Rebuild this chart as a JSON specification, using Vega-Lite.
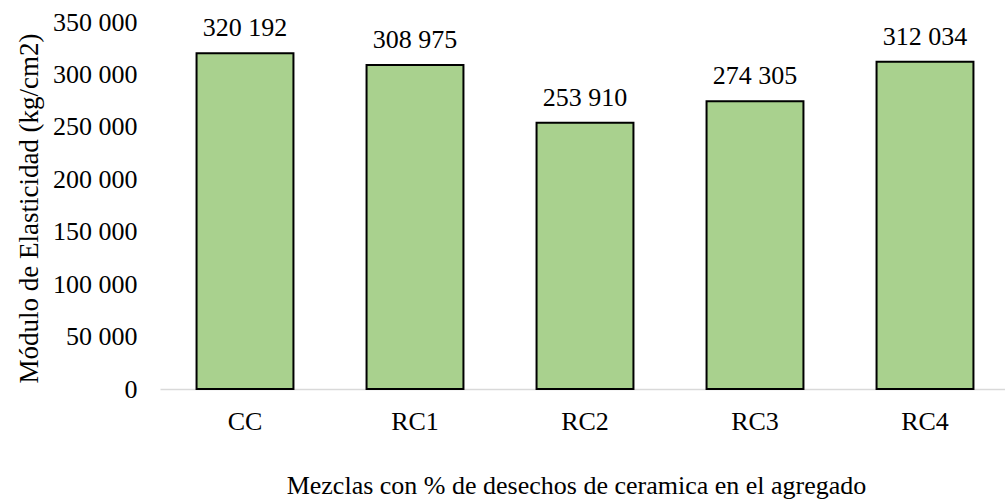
{
  "$schema": "https://vega.github.io/schema/vega-lite/v6.json",
  "autosize": {"type": "none"},
  "padding": {"left": 160, "top": 22, "right": 0, "bottom": 112},
  "width": 845,
  "height": 367,
  "background": "white",
  "config": {
    "view": {"stroke": null},
    "font": "Liberation Serif",
    "locale": {"number": {"decimal": ",", "thousands": " ", "grouping": [3], "currency": ["", ""]}}
  },
  "data": {
    "values": [
      {"mezcla": "CC", "modulo": 320192},
      {"mezcla": "RC1", "modulo": 308975},
      {"mezcla": "RC2", "modulo": 253910},
      {"mezcla": "RC3", "modulo": 274305},
      {"mezcla": "RC4", "modulo": 312034}
    ]
  },
  "encoding": {
    "x": {
      "field": "mezcla",
      "type": "nominal",
      "sort": null,
      "scale": {"range": [0, 850], "paddingInner": 0.43, "paddingOuter": 0.215},
      "axis": {
        "title": "Mezclas con % de desechos de ceramica en el agregado",
        "titleFont": "Liberation Serif",
        "titleFontSize": 26,
        "titleFontWeight": "normal",
        "titleColor": "#000000",
        "titleX": 416,
        "titleY": 104,
        "titleAlign": "center",
        "titleBaseline": "alphabetic",
        "labelAngle": 0,
        "labelFont": "Liberation Serif",
        "labelFontSize": 26,
        "labelColor": "#000000",
        "labelBaseline": "alphabetic",
        "labelPadding": 40,
        "ticks": false,
        "tickSize": 0,
        "domainColor": "#d9d9d9",
        "domainWidth": 1.5,
        "grid": false
      }
    },
    "y": {
      "field": "modulo",
      "type": "quantitative",
      "scale": {"domain": [0, 350000]},
      "axis": {
        "title": "Módulo de Elasticidad (kg/cm2)",
        "titleFont": "Liberation Serif",
        "titleFontSize": 27,
        "titleFontWeight": "normal",
        "titleColor": "#000000",
        "titleX": -131,
        "titleY": 186,
        "titleAngle": -90,
        "titleAlign": "center",
        "titleBaseline": "middle",
        "values": [0, 50000, 100000, 150000, 200000, 250000, 300000, 350000],
        "format": ",.0f",
        "labelFont": "Liberation Serif",
        "labelFontSize": 26,
        "labelColor": "#000000",
        "labelPadding": 23,
        "ticks": false,
        "tickSize": 0,
        "domain": false,
        "grid": false
      }
    }
  },
  "layer": [
    {
      "mark": {"type": "bar", "color": "#A9D18E", "stroke": "#000000", "strokeWidth": 2}
    },
    {
      "mark": {"type": "text", "baseline": "alphabetic", "dy": -17, "fontSize": 26, "font": "Liberation Serif", "color": "#000000"},
      "encoding": {
        "text": {"field": "modulo", "type": "quantitative", "format": ",.0f"}
      }
    }
  ]
}
